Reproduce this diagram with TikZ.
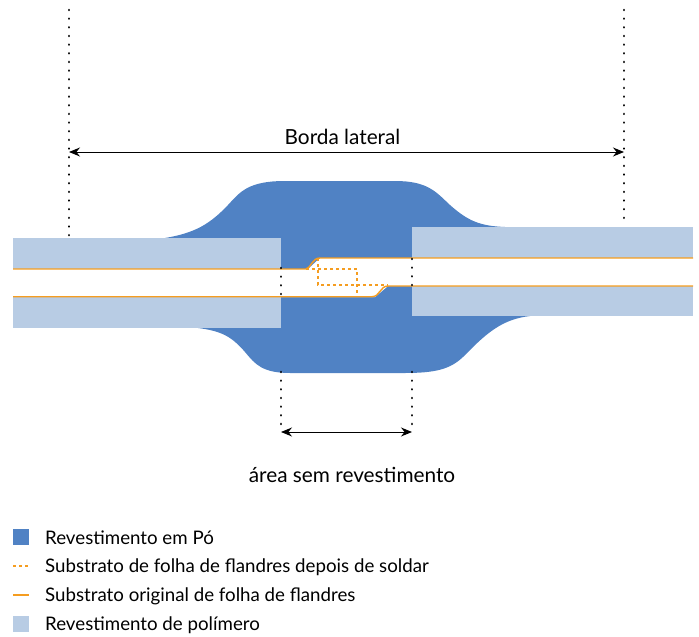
\documentclass[tikz,border=0pt]{standalone}
\usepackage{fontspec}
\setmainfont{Lato}
\usetikzlibrary{arrows.meta}
\definecolor{powderblue}{HTML}{5082C4}
\definecolor{polyblue}{HTML}{B8CCE4}
\definecolor{tinorange}{HTML}{F59D20}
\tikzset{
  polybox/.style={fill=polyblue, draw=none},
  dotline/.style={line width=2.6pt, line cap=round, dash pattern=on 0.01pt off 8.65pt},
  sizearrow/.style={line width=1pt, {Stealth[length=11pt,width=9pt]}-{Stealth[length=11pt,width=9pt]}},
  tinline/.style={line width=1.4pt, tinorange},
  tindash/.style={line width=1.3pt, tinorange, dash pattern=on 3pt off 3pt},
  maintext/.style={font=\fontsize{20.8}{23}\selectfont, inner sep=0pt},
  legendtext/.style={font=\fontsize{18.7}{21}\selectfont, anchor=west, inner sep=0pt},
}
\begin{document}
\begin{tikzpicture}[x=1pt,y=-1pt]
\useasboundingbox (0,0) rectangle (699,637);
% powder coating
\fill[powderblue] (165,238) .. controls (195,233) and (210,224) .. (228,205)
  .. controls (240,192) and (248,181) .. (285,181)
  -- (395,181) .. controls (428,181) and (436,192) .. (450,205)
  .. controls (468,221) and (480,226) .. (505,227)
  -- (530,316) .. controls (505,319) and (490,330) .. (470,350)
  .. controls (455,366) and (445,373) .. (405,373)
  -- (290,373) .. controls (262,373) and (255,364) .. (245,352)
  .. controls (232,337) and (222,331) .. (198,328) -- cycle;
% welded gap
\fill[white] (13,269) -- (308,269) -- (320,258) -- (693,258) -- (693,286)
  -- (388,286) -- (375,297) -- (13,297) -- cycle;
% polymer coating
\node[polybox, minimum width=268pt, minimum height=31pt, inner sep=0pt] (polyA) at (147,253.5){};
\node[polybox, minimum width=268pt, minimum height=31pt, inner sep=0pt] (polyB) at (147,312.5){};
\node[polybox, minimum width=281pt, minimum height=31pt, inner sep=0pt] (polyC) at (552.5,242.5){};
\node[polybox, minimum width=281pt, minimum height=30pt, inner sep=0pt] (polyD) at (552.5,301){};
% substrate
\coordinate (topL) at (13,269);
\coordinate (topM) at (306,269);
\coordinate (topN) at (320,258);
\coordinate (topR) at (693,258);
\coordinate (botL) at (13,296.7);
\coordinate (botM) at (372,296.7);
\coordinate (botN) at (388,286);
\coordinate (botR) at (693,286);
\draw[tinline] (topL) -- (topM) .. controls (311,268) and (312,258) .. (topN) -- (topR);
\draw[tinline] (botL) -- (botM) .. controls (380,296.7) and (380,286) .. (botN) -- (botR);
% substrate after welding
\coordinate (dashA) at (318,258);
\coordinate (dashB) at (318,285);
\coordinate (dashC) at (357,269);
\coordinate (dashD) at (357,296.7);
\coordinate (dashE) at (388,285);
\draw[tindash] (topM) -- (dashC) -- (dashD);
\draw[tindash] (dashA) -- (dashB) -- (dashE);
% dotted limits
\coordinate (limA) at (69,10);
\coordinate (limB) at (69,238);
\coordinate (limC) at (624,10);
\coordinate (limD) at (624,226);
\coordinate (limE) at (281,268);
\coordinate (limF) at (281,296);
\coordinate (limG) at (412,259);
\coordinate (limH) at (412,286);
\coordinate (limI) at (281,372);
\coordinate (limJ) at (281,432);
\coordinate (limK) at (412,372);
\coordinate (limL) at (412,432);
\draw[dotline] (limA) -- (limB);
\draw[dotline] (limC) -- (limD);
\draw[dotline] (limE) -- (limF);
\draw[dotline] (limG) -- (limH);
\draw[dotline] (limI) -- (limJ);
\draw[dotline] (limK) -- (limL);
% arrows
\coordinate (bordaL) at (69,152);
\coordinate (bordaR) at (624,152);
\draw[sizearrow] (bordaL) -- (bordaR);
\draw[sizearrow] (limJ) -- (limL);
\node[maintext] (borda) at (342.5,137){Borda lateral};
\node[maintext] (area) at (352,475){área sem revestimento};
% legend
\node[fill=powderblue, minimum size=16pt, inner sep=0pt] (keyA) at (21,537){};
\coordinate (keyBa) at (13,566);
\coordinate (keyBb) at (29,566);
\draw[tindash] (keyBa) -- (keyBb);
\coordinate (keyCa) at (13,595);
\coordinate (keyCb) at (29,595);
\draw[tinline] (keyCa) -- (keyCb);
\node[fill=polyblue, minimum size=16pt, inner sep=0pt] (keyD) at (21,624){};
\node[legendtext] (txtA) at (45,538){Revestimento em Pó};
\node[legendtext] (txtB) at (45,567){Substrato de folha de flandres depois de soldar};
\node[legendtext] (txtC) at (45,596){Substrato original de folha de flandres};
\node[legendtext] (txtD) at (45,625){Revestimento de polímero};
\end{tikzpicture}
\end{document}
